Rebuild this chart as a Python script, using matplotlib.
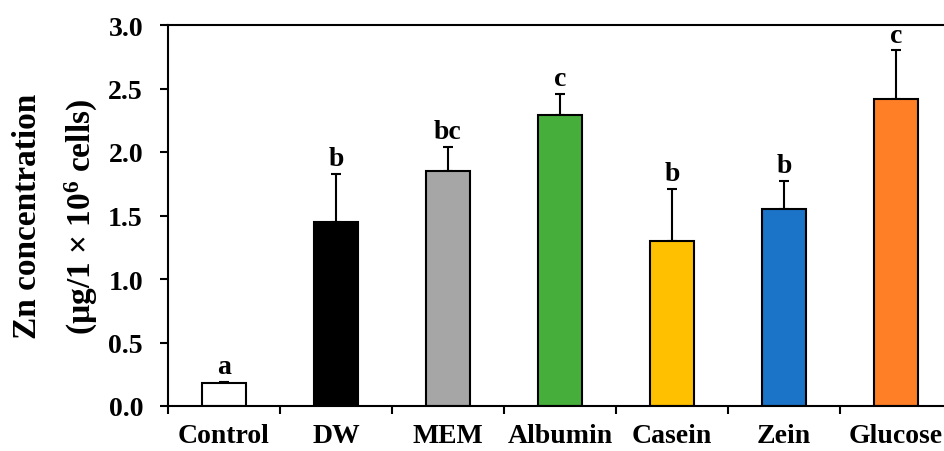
import numpy as np
import matplotlib
matplotlib.use("Agg")
import matplotlib.pyplot as plt

# ===== Data =====
groups = ['Control', 'DW', 'MEM', 'Albumin', 'Casein', 'Zein', 'Glucose']
zn_mean = [0.18, 1.45, 1.85, 2.29, 1.30, 1.55, 2.42]
zn_err = [0.01, 0.38, 0.19, 0.17, 0.41, 0.22, 0.38]
letters = ['a', 'b', 'bc', 'c', 'b', 'b', 'c']
colors = ['#FFFFFF', '#000000', '#A6A6A6', '#46AE3B', '#FFC000', '#1C74C8', '#FF7F27']
yticks = [0.0, 0.5, 1.0, 1.5, 2.0, 2.5, 3.0]

# ===== Fonts =====
plt.rcParams['font.family'] = 'Liberation Serif'
plt.rcParams['font.weight'] = 'bold'
plt.rcParams['mathtext.fontset'] = 'custom'
plt.rcParams['mathtext.rm'] = 'Liberation Serif:bold'
plt.rcParams['mathtext.default'] = 'rm'

fig = plt.figure(figsize=(9.45, 4.52), dpi=100)
ax = fig.add_axes([168 / 945, 1 - 407 / 452, (952 - 168) / 945, (407 - 26) / 452])

x = np.arange(len(groups))
ax.bar(x, zn_mean, width=0.4, color=colors, edgecolor='black', linewidth=1.5, zorder=2)
ax.errorbar(x, zn_mean, yerr=[np.zeros(len(x)), zn_err], fmt='none', ecolor='black',
            elinewidth=1.5, capsize=3.5, capthick=1.5, zorder=1)

# significance letters
for i in range(len(groups)):
    ax.annotate(letters[i], xy=(x[i], zn_mean[i] + zn_err[i]), xytext=(0, 2),
                textcoords='offset points', ha='center', va='bottom',
                fontsize=20, fontweight='bold')

ax.set_xlim(-0.5, len(groups) - 0.5)
ax.set_ylim(0, 3.0)
ax.set_yticks(yticks)
ax.set_yticklabels([f'{v:.1f}' for v in yticks], fontsize=20, fontweight='bold')

# ticks at category boundaries, labels at bar centres
ax.set_xticks(np.arange(-0.5, len(groups), 1.0))
ax.set_xticklabels([])
ax.set_xticks(x, minor=True)
ax.set_xticklabels(groups, minor=True, fontsize=20, fontweight='bold')
ax.tick_params(axis='x', which='minor', length=0, pad=12)
ax.tick_params(axis='x', which='major', direction='out', length=6, width=1.5)
ax.tick_params(axis='y', direction='out', length=6, width=1.5, pad=12)

for s in ax.spines.values():
    s.set_linewidth(1.5)

ax.set_ylabel('Zn concentration\n(µg/1 × 10$^{6}$ cells)', fontsize=24, fontweight='bold',
              linespacing=1.7, labelpad=6)

fig.savefig('out.png', dpi=100)
